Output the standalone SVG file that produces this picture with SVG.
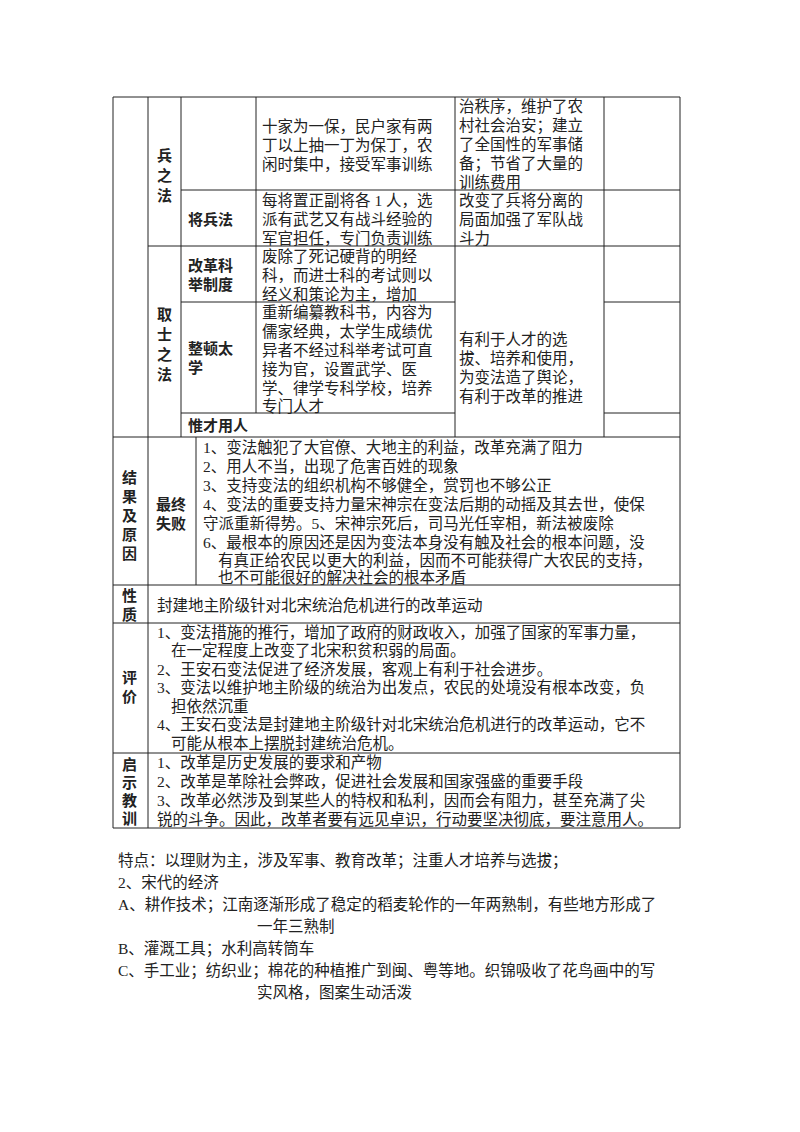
<svg xmlns="http://www.w3.org/2000/svg" width="800" height="1132" viewBox="0 0 800 1132">
<style>
text{font-family:"Liberation Serif","Noto Sans CJK SC",serif;font-size:15.5px;fill:#222}
.b{font-family:"Noto Sans CJK SC",sans-serif;font-weight:bold;font-size:15px}
line{stroke:#222;stroke-width:1}
</style>
<rect width="800" height="1132" fill="#fff"/>
<g id="grid">
<line x1="113" y1="97" x2="113" y2="828"/>
<line x1="680" y1="97" x2="680" y2="828"/>
<line x1="113" y1="97" x2="680" y2="97"/>
<line x1="148" y1="97" x2="148" y2="828"/>
<line x1="181" y1="97" x2="181" y2="437"/>
<line x1="256" y1="97" x2="256" y2="413"/>
<line x1="455" y1="97" x2="455" y2="437"/>
<line x1="604" y1="97" x2="604" y2="437"/>
<line x1="181" y1="190" x2="680" y2="190"/>
<line x1="148" y1="246" x2="680" y2="246"/>
<line x1="181" y1="302" x2="455" y2="302"/>
<line x1="604" y1="302" x2="680" y2="302"/>
<line x1="181" y1="413" x2="455" y2="413"/>
<line x1="604" y1="413" x2="680" y2="413"/>
<line x1="113" y1="437" x2="680" y2="437"/>
<line x1="196" y1="437" x2="196" y2="585"/>
<line x1="113" y1="585" x2="680" y2="585"/>
<line x1="113" y1="623" x2="680" y2="623"/>
<line x1="113" y1="753" x2="680" y2="753"/>
<line x1="113" y1="828" x2="680" y2="828"/>
</g>
<g id="t1">
<text class="b" x="157" y="161">兵</text><text class="b" x="157" y="181">之</text><text class="b" x="157" y="201">法</text>
<text x="262" y="132">十家为一保，民户家有两</text>
<text x="262" y="151">丁以上抽一丁为保丁，农</text>
<text x="262" y="170">闲时集中，接受军事训练</text>
<text x="459" y="112">治秩序，维护了农</text>
<text x="459" y="131">村社会治安；建立</text>
<text x="459" y="150">了全国性的军事储</text>
<text x="459" y="169">备；节省了大量的</text>
<text x="459" y="188">训练费用</text>
<text class="b" x="188" y="225">将兵法</text>
<text x="262" y="206">每将置正副将各 1 人，选</text>
<text x="262" y="225">派有武艺又有战斗经验的</text>
<text x="262" y="244">军官担任，专门负责训练</text>
<text x="459" y="206">改变了兵将分离的</text>
<text x="459" y="225">局面加强了军队战</text>
<text x="459" y="244">斗力</text>
<text class="b" x="157" y="320">取</text><text class="b" x="157" y="340">士</text><text class="b" x="157" y="360">之</text><text class="b" x="157" y="380">法</text>
<text class="b" x="188" y="271">改革科</text><text class="b" x="188" y="290">举制度</text>
<text x="262" y="262">废除了死记硬背的明经</text>
<text x="262" y="281">科，而进士科的考试则以</text>
<text x="262" y="300">经义和策论为主，增加</text>
<text class="b" x="188" y="354">整顿太</text><text class="b" x="188" y="373">学</text>
<text x="262" y="318">重新编纂教科书，内容为</text>
<text x="262" y="337">儒家经典，太学生成绩优</text>
<text x="262" y="356">异者不经过科举考试可直</text>
<text x="262" y="375">接为官，设置武学、医</text>
<text x="262" y="394">学、律学专科学校，培养</text>
<text x="262" y="412">专门人才</text>
<text class="b" x="188" y="431">惟才用人</text>
<text x="459" y="345">有利于人才的选</text>
<text x="459" y="364">拔、培养和使用，</text>
<text x="459" y="383">为变法造了舆论，</text>
<text x="459" y="402">有利于改革的推进</text>
</g>
<g id="t2">
<text class="b" x="122" y="483">结</text><text class="b" x="122" y="502">果</text><text class="b" x="122" y="521">及</text><text class="b" x="122" y="540">原</text><text class="b" x="122" y="559">因</text>
<text class="b" x="156" y="510">最终</text><text class="b" x="156" y="529">失败</text>
<text x="203" y="453">1、变法触犯了大官僚、大地主的利益，改革充满了阻力</text>
<text x="203" y="472">2、用人不当，出现了危害百姓的现象</text>
<text x="203" y="491">3、支持变法的组织机构不够健全，赏罚也不够公正</text>
<text x="203" y="510">4、变法的重要支持力量宋神宗在变法后期的动摇及其去世，使保</text>
<text x="203" y="529">守派重新得势。5、宋神宗死后，司马光任宰相，新法被废除</text>
<text x="203" y="548">6、最根本的原因还是因为变法本身没有触及社会的根本问题，没</text>
<text x="218" y="566">有真正给农民以更大的利益，因而不可能获得广大农民的支持，</text>
<text x="218" y="583">也不可能很好的解决社会的根本矛盾</text>
<text class="b" x="122" y="601">性</text><text class="b" x="122" y="620">质</text>
<text x="157" y="611">封建地主阶级针对北宋统治危机进行的改革运动</text>
<text x="157" y="638">1、变法措施的推行，增加了政府的财政收入，加强了国家的军事力量，</text>
<text x="171" y="656">在一定程度上改变了北宋积贫积弱的局面。</text>
<text x="157" y="675">2、王安石变法促进了经济发展，客观上有利于社会进步。</text>
<text x="157" y="693">3、变法以维护地主阶级的统治为出发点，农民的处境没有根本改变，负</text>
<text x="171" y="712">担依然沉重</text>
<text x="157" y="730">4、王安石变法是封建地主阶级针对北宋统治危机进行的改革运动，它不</text>
<text x="171" y="749">可能从根本上摆脱封建统治危机。</text>
<text class="b" x="122" y="683">评</text><text class="b" x="122" y="702">价</text>
<text class="b" x="122" y="770">启</text><text class="b" x="122" y="788">示</text><text class="b" x="122" y="806">教</text><text class="b" x="122" y="824">训</text>
<text x="157" y="768">1、改革是历史发展的要求和产物</text>
<text x="157" y="787">2、改革是革除社会弊政，促进社会发展和国家强盛的重要手段</text>
<text x="157" y="806">3、改革必然涉及到某些人的特权和私利，因而会有阻力，甚至充满了尖</text>
<text x="157" y="825">锐的斗争。因此，改革者要有远见卓识，行动要坚决彻底，要注意用人。</text>
</g>
<g id="below">
<text x="118" y="866">特点：以理财为主，涉及军事、教育改革；注重人才培养与选拔；</text>
<text x="118" y="888">2、宋代的经济</text>
<text x="118" y="910">A、耕作技术；江南逐渐形成了稳定的稻麦轮作的一年两熟制，有些地方形成了</text>
<text x="257" y="932">一年三熟制</text>
<text x="118" y="954">B、灌溉工具；水利高转筒车</text>
<text x="118" y="976">C、手工业；纺织业；棉花的种植推广到闽、粤等地。织锦吸收了花鸟画中的写</text>
<text x="257" y="998">实风格，图案生动活泼</text>
</g>
</svg>
